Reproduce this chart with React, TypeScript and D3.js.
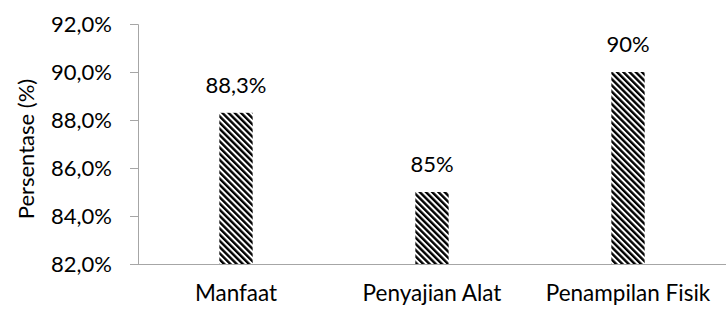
import { useEffect, useRef } from "react";
import * as d3 from "d3";

const categories = ["Manfaat", "Penyajian Alat", "Penampilan Fisik"];
const values = [88.3, 85, 90];
const valueLabels = ["88,3%", "85%", "90%"];
const yTicks = [82, 84, 86, 88, 90, 92];

const WIDTH = 726;
const HEIGHT = 311;
const MARGIN = { top: 24, right: 0, bottom: 47, left: 138 };
const FONT = "Lato, 'Open Sans', sans-serif";
const FS = "22px";

export default function App() {
  const svgRef = useRef<SVGSVGElement>(null);

  useEffect(() => {
    if (!svgRef.current) return;
    const svg = d3.select(svgRef.current);
    svg.selectAll("*").remove();

    const innerWidth = WIDTH - MARGIN.left - MARGIN.right;
    const innerHeight = HEIGHT - MARGIN.top - MARGIN.bottom;

    // Stripe pattern like Excel's wide downward diagonal
    const defs = svg.append("defs");
    const pat = defs
      .append("pattern")
      .attr("id", "stripes")
      .attr("patternUnits", "userSpaceOnUse")
      .attr("width", 4.4)
      .attr("height", 4.4)
      .attr("patternTransform", "rotate(-45)");
    pat.append("rect").attr("width", 4.4).attr("height", 4.4).attr("fill", "#fff");
    pat.append("rect").attr("width", 2.4).attr("height", 4.4).attr("fill", "#000");

    const g = svg
      .append("g")
      .attr("transform", `translate(${MARGIN.left},${MARGIN.top})`);

    const x = d3
      .scaleBand<string>()
      .domain(categories)
      .range([0, innerWidth])
      .paddingInner(0.83)
      .paddingOuter(0.415);

    const y = d3.scaleLinear().domain([82, 92]).range([innerHeight, 0]);

    // Y axis
    g.append("g")
      .call(
        d3
          .axisLeft(y)
          .tickValues(yTicks)
          .tickSize(8)
          .tickPadding(18)
          .tickFormat((d) => d3.format(".1f")(d as number).replace(".", ",") + "%")
      )
      .call((sel) => sel.select(".domain").attr("stroke", "#a6a6a6").attr("d", `M-8,0.5H0.5V${innerHeight + 0.5}`))
      .call((sel) => sel.selectAll(".tick line").attr("stroke", "#a6a6a6"))
      .call((sel) =>
        sel
          .selectAll(".tick text")
          .attr("fill", "#000")
          .attr("font-size", FS)
          .attr("font-family", FONT)
      );

    // X axis line
    g.append("line")
      .attr("x1", -8)
      .attr("x2", innerWidth)
      .attr("y1", innerHeight + 0.5)
      .attr("y2", innerHeight + 0.5)
      .attr("stroke", "#a6a6a6");

    // Bars
    g.selectAll("rect.bar")
      .data(values)
      .join("rect")
      .attr("class", "bar")
      .attr("x", (_, i) => x(categories[i])!)
      .attr("width", x.bandwidth())
      .attr("y", (d) => y(d))
      .attr("height", (d) => innerHeight - y(d))
      .attr("fill", "url(#stripes)");

    // Value labels
    g.selectAll("text.val")
      .data(values)
      .join("text")
      .attr("class", "val")
      .attr("x", (_, i) => x(categories[i])! + x.bandwidth() / 2)
      .attr("y", (d) => y(d) - 20)
      .attr("text-anchor", "middle")
      .attr("font-size", FS)
      .attr("font-family", FONT)
      .attr("fill", "#000")
      .text((_, i) => valueLabels[i]);

    // Category labels
    g.selectAll("text.cat")
      .data(categories)
      .join("text")
      .attr("class", "cat")
      .attr("x", (d) => x(d)! + x.bandwidth() / 2)
      .attr("y", innerHeight + 37)
      .attr("text-anchor", "middle")
      .attr("font-size", "22.5px")
      .attr("font-family", FONT)
      .attr("fill", "#000")
      .text((d) => d);

    // Y axis title
    svg
      .append("text")
      .attr("transform", `translate(34,${MARGIN.top + innerHeight / 2 + 5}) rotate(-90)`)
      .attr("text-anchor", "middle")
      .attr("font-size", FS)
      .attr("font-family", FONT)
      .attr("fill", "#000")
      .text("Persentase (%)");
  }, []);

  return (
    <svg
      ref={svgRef}
      width={WIDTH}
      height={HEIGHT}
      style={{ position: "absolute", left: 0, top: 0, background: "#fff" }}
    />
  );
}
